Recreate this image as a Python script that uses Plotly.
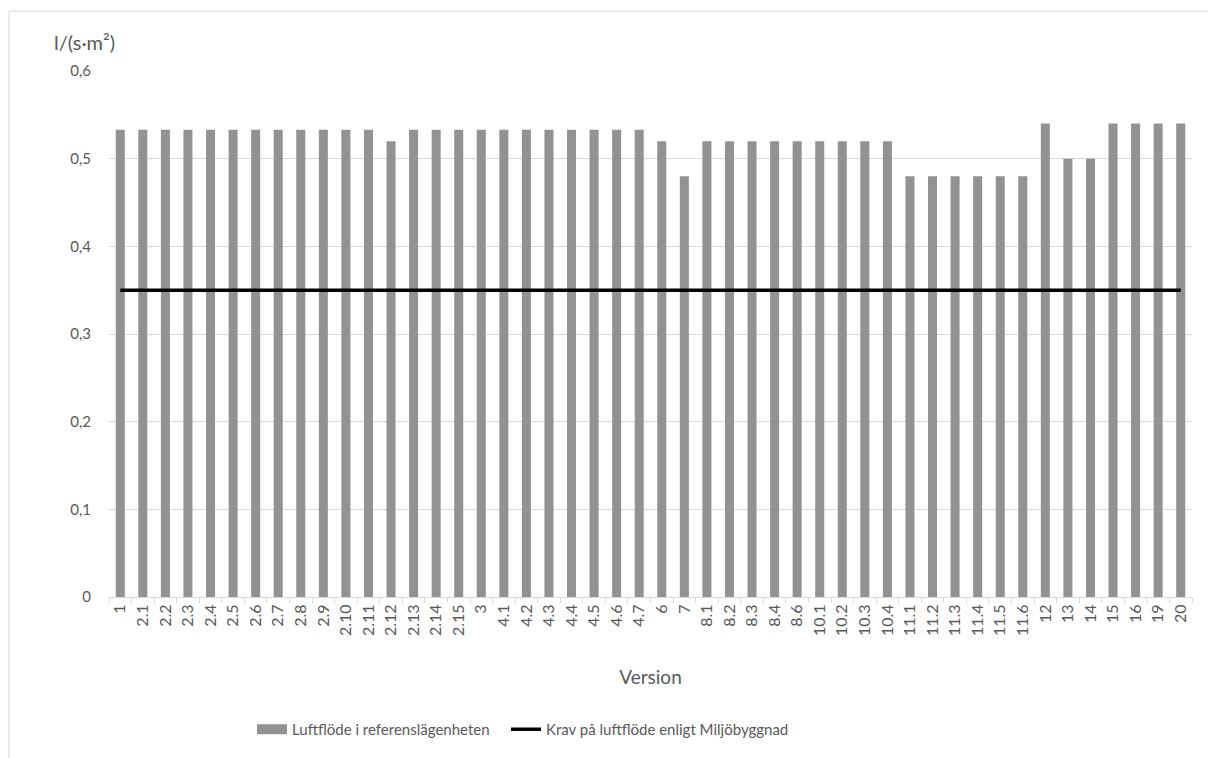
import plotly.graph_objects as go

versions = ["1", "2.1", "2.2", "2.3", "2.4", "2.5", "2.6", "2.7", "2.8", "2.9",
            "2.10", "2.11", "2.12", "2.13", "2.14", "2.15", "3",
            "4.1", "4.2", "4.3", "4.4", "4.5", "4.6", "4.7", "6", "7",
            "8.1", "8.2", "8.3", "8.4", "8.6", "10.1", "10.2", "10.3", "10.4",
            "11.1", "11.2", "11.3", "11.4", "11.5", "11.6",
            "12", "13", "14", "15", "16", "19", "20"]

luftflode = [0.533, 0.533, 0.533, 0.533, 0.533, 0.533, 0.533, 0.533, 0.533, 0.533,
             0.533, 0.533, 0.52, 0.533, 0.533, 0.533, 0.533,
             0.533, 0.533, 0.533, 0.533, 0.533, 0.533, 0.533, 0.52, 0.48,
             0.52, 0.52, 0.52, 0.52, 0.52, 0.52, 0.52, 0.52, 0.52,
             0.48, 0.48, 0.48, 0.48, 0.48, 0.48,
             0.54, 0.50, 0.50, 0.54, 0.54, 0.54, 0.54]

krav = [0.35] * len(versions)

FONT = "Lato, 'Open Sans', sans-serif"
TXT = "#595959"
GRID = "#d9d9d9"
BAR = "#929292"

W, H = 1208, 758
L, R, T, B = 109, 16, 71, 159
pw, ph = W - L - R, H - T - B


def px_x(p):
    return (p - L) / pw


def px_y(p):
    return (H - B - p) / ph


fig = go.Figure()
fig.add_trace(go.Bar(
    x=versions, y=luftflode, name="Luftflöde i referenslägenheten",
    marker=dict(color=BAR, line=dict(width=0)),
    legendgroup="bar", showlegend=False,
))
# wide block-style legend key for the bar series
fig.add_trace(go.Scatter(
    x=[None], y=[None], mode="lines", name="Luftflöde i referenslägenheten",
    line=dict(color=BAR, width=14), legendgroup="bar", hoverinfo="skip",
    legend="legend",
))
fig.add_trace(go.Scatter(
    x=versions, y=krav, mode="lines", name="Krav på luftflöde enligt Miljöbyggnad",
    line=dict(color="#000000", width=3.5), legend="legend2",
))

legend_style = dict(orientation="h", yanchor="middle", xanchor="left",
                    font=dict(size=15, color=TXT), itemwidth=30,
                    bgcolor="rgba(0,0,0,0)", borderwidth=0)

fig.update_layout(
    width=W, height=H,
    margin=dict(l=L, r=R, t=T, b=B),
    paper_bgcolor="white", plot_bgcolor="white",
    font=dict(family=FONT, color=TXT, size=15),
    separators=", ",
    bargap=0.6,
    showlegend=True,
    legend=dict(x=px_x(252), y=px_y(732), **legend_style),
    legend2=dict(x=px_x(506), y=px_y(732), **legend_style),
    xaxis=dict(
        type="category", tickangle=-90, tickfont=dict(size=16, color=TXT),
        showgrid=False, showline=True, linecolor=GRID, linewidth=1,
        ticks="outside", tickson="boundaries", ticklen=5, tickcolor=GRID,
        title=dict(text="Version", font=dict(size=19, color=TXT), standoff=35),
        range=[-0.5, len(versions) - 0.5],
    ),
    yaxis=dict(
        range=[0, 0.6], dtick=0.1, tick0=0,
        showgrid=True, gridcolor=GRID, gridwidth=1,
        zeroline=False, showline=False,
        tickfont=dict(size=15, color=TXT), ticklabelstandoff=17,
    ),
    annotations=[dict(
        text="l/(s·m²)", xref="paper", yref="paper",
        x=px_x(52), y=px_y(42), xanchor="left", yanchor="middle",
        showarrow=False, font=dict(size=20, color=TXT),
    )],
    shapes=[dict(
        type="rect", xref="paper", yref="paper",
        x0=px_x(9), x1=px_x(1215), y0=px_y(770), y1=px_y(11),
        line=dict(color=GRID, width=1), layer="below",
    )],
)

fig.write_html("out.html")
